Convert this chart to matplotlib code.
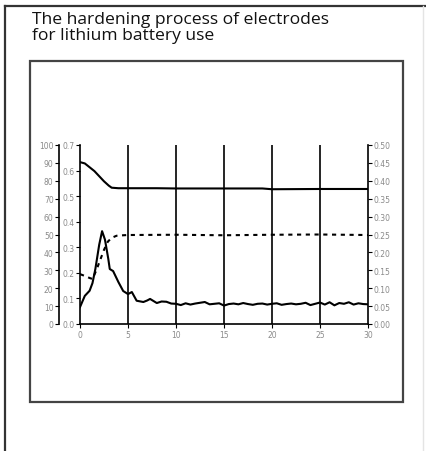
import matplotlib
matplotlib.use('Agg')
import matplotlib.pyplot as plt
from matplotlib.lines import Line2D
from matplotlib.patches import Rectangle

# data (time axis 0..30)
x_upper = [0, 0.5, 1.0, 1.5, 2.0, 2.5, 3.0, 3.3, 4, 5, 8, 10, 15, 19, 20, 25, 30]
y_upper = [0.633, 0.628, 0.613, 0.598, 0.578, 0.558, 0.541, 0.533, 0.531, 0.531, 0.531,
           0.530, 0.530, 0.530, 0.527, 0.528, 0.528]

x_dotted = [0, 0.5, 1.0, 1.3, 1.7, 2.1, 2.5, 2.9, 3.3, 3.8, 4.5, 5, 10, 15, 20, 25, 30]
y_dotted = [0.195, 0.188, 0.180, 0.176, 0.21, 0.25, 0.29, 0.322, 0.337, 0.345, 0.347,
            0.348, 0.349, 0.347, 0.349, 0.350, 0.348]

x_peak = [0, 0.5, 1.0, 1.3, 1.6, 2.0, 2.3, 2.6, 2.95, 3.1, 3.45, 4.0, 4.5, 5.0, 5.4,
          5.9, 6.6, 7.0, 7.3, 8.0, 8.5, 9.0, 9.5, 10, 10.5, 11, 11.5, 12, 12.5, 13,
          13.5, 14, 14.5, 15, 15.5, 16, 16.5, 17, 17.5, 18, 18.5, 19, 19.5, 20, 20.5,
          21, 21.5, 22, 22.5, 23, 23.5, 24, 24.5, 25, 25.5, 26, 26.5, 27, 27.5, 28,
          28.5, 29, 29.5, 30]
y_peak = [0.066, 0.11, 0.13, 0.16, 0.215, 0.31, 0.363, 0.33, 0.254, 0.215, 0.207, 0.164,
          0.129, 0.117, 0.125, 0.091, 0.086, 0.092, 0.098, 0.082, 0.088, 0.087, 0.080,
          0.079, 0.074, 0.081, 0.076, 0.080, 0.083, 0.086, 0.077, 0.079, 0.081, 0.072,
          0.078, 0.080, 0.077, 0.082, 0.078, 0.075, 0.079, 0.080, 0.076, 0.079, 0.081,
          0.075, 0.078, 0.080, 0.077, 0.079, 0.083, 0.074, 0.079, 0.084, 0.076, 0.085,
          0.073, 0.082, 0.079, 0.085, 0.076, 0.081, 0.078, 0.077]

x_ticks = [0, 5, 10, 15, 20, 25, 30]
x_labels = ['0', '5', '10', '15', '20', '25', '30']
inner_ticks = [0.0, 0.1, 0.2, 0.3, 0.4, 0.5, 0.6, 0.7]
outer_ticks = [0, 10, 20, 30, 40, 50, 60, 70, 80, 90, 100]
right_ticks = [0.00, 0.05, 0.10, 0.15, 0.20, 0.25, 0.30, 0.35, 0.40, 0.45, 0.50]

W, H = 426, 452
fig = plt.figure(figsize=(W / 100, H / 100), dpi=100)

def fx(px):
    return px / W

def fy(py):
    return 1 - py / H

# frame lines and inner box
fig.add_artist(Line2D([fx(5), 1], [fy(7), fy(7)], color='#333333', lw=1.6))
fig.add_artist(Line2D([fx(5), fx(5)], [fy(7), 0], color='#333333', lw=1.6))
fig.add_artist(Line2D([fx(423), fx(423)], [fy(7), 0], color='#e4e4e4', lw=1))
fig.add_artist(Rectangle((fx(30), fy(403)), fx(373), (403 - 62) / H,
                         fill=False, edgecolor='#444444', lw=1.6))

fig.text(fx(32), fy(12), 'The hardening process of electrodes\nfor lithium battery use',
         family='Open Sans', fontsize=12.6, va='top', ha='left', color='#111111',
         linespacing=0.98)

tick_kw = dict(labelsize=5.5, labelcolor='#8a8a8a', length=3, width=0.8, color='black')

ax = fig.add_axes([fx(80), fy(325), fx(368) - fx(80), fy(146) - fy(325)])
ax.set_xlim(0, 30)
ax.set_ylim(0, 0.7)
ax.spines['top'].set_visible(False)
ax.spines['right'].set_visible(False)
for s in ['left', 'bottom']:
    ax.spines[s].set_linewidth(1.2)
ax.set_xticks(x_ticks)
ax.set_xticklabels(x_labels)
ax.set_yticks(inner_ticks)
ax.set_yticklabels([f'{v:.1f}' for v in inner_ticks])
ax.tick_params(**tick_kw, pad=1)
for xv in x_ticks[1:-1]:
    ax.axvline(xv, color='black', lw=1.2)

ax.plot(x_upper, y_upper, color='black', lw=1.5)
ax.plot(x_dotted, y_dotted, color='black', lw=1.5, linestyle=(0, (2, 2.2)))
ax.plot(x_peak, y_peak, color='black', lw=1.5)

# right scale
axr = ax.twinx()
axr.set_ylim(0, 0.5)
axr.set_yticks(right_ticks)
axr.set_yticklabels([f'{v:.2f}' for v in right_ticks])
axr.spines['top'].set_visible(False)
axr.spines['left'].set_visible(False)
axr.spines['bottom'].set_visible(False)
axr.spines['right'].set_linewidth(1.2)
axr.tick_params(**tick_kw, pad=1)

# outer left scale
axo = ax.twinx()
axo.set_ylim(0, 100)
axo.spines['left'].set_position(('outward', 15))
axo.spines['left'].set_visible(True)
axo.spines['left'].set_linewidth(1.2)
for s in ['top', 'right', 'bottom']:
    axo.spines[s].set_visible(False)
axo.yaxis.set_ticks_position('left')
axo.yaxis.set_label_position('left')
axo.set_yticks(outer_ticks)
axo.set_yticklabels([str(v) for v in outer_ticks])
axo.tick_params(**tick_kw, pad=1)

fig.savefig('out.png', dpi=100)
